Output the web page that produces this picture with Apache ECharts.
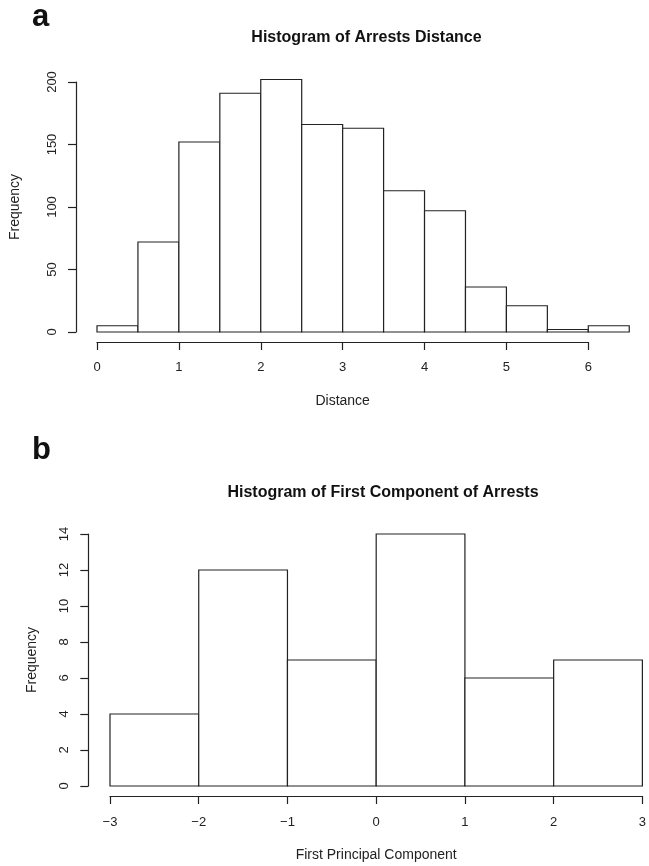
<!DOCTYPE html>
<html>
<head>
<meta charset="utf-8">
<script src="https://cdn.jsdelivr.net/npm/echarts@6/dist/echarts.min.js"></script>
<style>
html,body{margin:0;padding:0;background:#fff;}
#chart{width:649px;height:866px;}
</style>
</head>
<body>
<div id="chart"></div>
<script>
// Panel a: histogram of pairwise distances
const distBinStarts = [0, 0.5, 1, 1.5, 2, 2.5, 3, 3.5, 4, 4.5, 5, 5.5, 6];
const distBinEnds   = [0.5, 1, 1.5, 2, 2.5, 3, 3.5, 4, 4.5, 5, 5.5, 6, 6.5];
const distCounts    = [5, 72, 152, 191, 202, 166, 163, 113, 97, 36, 21, 2, 5];
const distXTicks = ['0', '1', '2', '3', '4', '5', '6'];
const distYTicks = ['0', '50', '100', '150', '200'];

// Panel b: histogram of first principal component
const pcBinStarts = [-3, -2, -1, 0, 1, 2];
const pcBinEnds   = [-2, -1, 0, 1, 2, 3];
const pcCounts    = [4, 12, 7, 14, 6, 7];
const pcXTicks = ['\u22123', '\u22122', '\u22121', '0', '1', '2', '3'];
const pcYTicks = ['0', '2', '4', '6', '8', '10', '12', '14'];

const FONT = '"Liberation Sans", Arial, Helvetica, sans-serif';
const LINE = '#222';
const TEXT = '#222';

function histData(starts, ends, counts) {
  return starts.map((s, i) => [s, ends[i], counts[i]]);
}

function renderBar(params, api) {
  const p0 = api.coord([api.value(0), 0]);
  const p1 = api.coord([api.value(1), api.value(2)]);
  return {
    type: 'rect',
    shape: { x: p0[0], y: p1[1], width: p1[0] - p0[0], height: p0[1] - p1[1] },
    style: { fill: '#fff', stroke: LINE, lineWidth: 1.2 }
  };
}

function xAxisCfg(grid, min, max, ticks, name, nameGap, margin) {
  return {
    type: 'value', gridIndex: grid, min: min, max: max, interval: 1,
    position: 'bottom', offset: 10,
    name: name, nameLocation: 'middle', nameGap: nameGap,
    nameTextStyle: { fontFamily: FONT, fontSize: 14, color: TEXT },
    axisLine: { show: true, onZero: false, lineStyle: { color: LINE, width: 1.2 } },
    axisTick: { show: true, length: 8, lineStyle: { color: LINE, width: 1.2 } },
    axisLabel: {
      margin: margin, fontFamily: FONT, fontSize: 13, color: TEXT,
      formatter: (v) => ticks[Math.round(v - min)]
    },
    splitLine: { show: false }
  };
}

function yAxisCfg(grid, max, interval, ticks, offset, nameGap) {
  return {
    type: 'value', gridIndex: grid, min: 0, max: max, interval: interval,
    position: 'left', offset: offset,
    name: 'Frequency', nameLocation: 'middle', nameGap: nameGap,
    nameTextStyle: { fontFamily: FONT, fontSize: 14, color: TEXT },
    axisLine: { show: true, onZero: false, lineStyle: { color: LINE, width: 1.2 } },
    axisTick: { show: true, length: 8, lineStyle: { color: LINE, width: 1.2 } },
    axisLabel: {
      rotate: 90, margin: 17, fontFamily: FONT, fontSize: 13, color: TEXT,
      formatter: (v) => ticks[Math.round(v / interval)]
    },
    splitLine: { show: false }
  };
}

const chart = echarts.init(document.getElementById('chart'), null, { renderer: 'canvas' });
chart.setOption({
  backgroundColor: '#fff',
  animation: false,
  title: [
    { text: 'Histogram of Arrests Distance', left: 361.5, top: 24.5, textAlign: 'center',
      textStyle: { fontFamily: FONT, fontSize: 16, fontWeight: 'bold', color: '#111' } },
    { text: 'Histogram of First Component of Arrests', left: 378, top: 480, textAlign: 'center',
      textStyle: { fontFamily: FONT, fontSize: 16, fontWeight: 'bold', color: '#111' } }
  ],
  graphic: [
    { type: 'text', left: 32, top: 2, style: { text: 'a', font: 'bold 31px ' + FONT, fill: '#111' } },
    { type: 'text', left: 32, top: 435, style: { text: 'b', font: 'bold 31px ' + FONT, fill: '#111' } }
  ],
  grid: [
    { left: 93.3, width: 495, top: 82, height: 250 },
    { left: 110, width: 536, top: 534, height: 252 }
  ],
  xAxis: [
    xAxisCfg(0, 0, 6, distXTicks, 'Distance', 52, 19),
    xAxisCfg(1, -3, 3, pcXTicks, 'First Principal Component', 52, 20)
  ],
  yAxis: [
    yAxisCfg(0, 200, 50, distYTicks, 21, 54),
    yAxisCfg(1, 14, 2, pcYTicks, 21.7, 49)
  ],
  series: [
    { type: 'custom', xAxisIndex: 0, yAxisIndex: 0, clip: false,
      encode: { x: [0, 1], y: 2 }, renderItem: renderBar,
      data: histData(distBinStarts, distBinEnds, distCounts) },
    { type: 'custom', xAxisIndex: 1, yAxisIndex: 1, clip: false,
      encode: { x: [0, 1], y: 2 }, renderItem: renderBar,
      data: histData(pcBinStarts, pcBinEnds, pcCounts) }
  ]
});
</script>
</body>
</html>
